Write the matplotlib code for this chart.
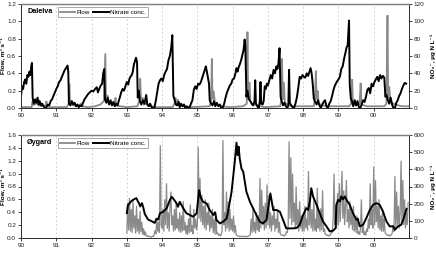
import matplotlib
matplotlib.use("Agg")
import matplotlib.pyplot as plt
from matplotlib.lines import Line2D

plt.rcParams['font.family'] = ['Liberation Sans', 'DejaVu Sans']

# ---------------- data ----------------
year_ticks = [90, 91, 92, 93, 94, 95, 96, 97, 98, 99, 100]
year_labels = ["90", "91", "92", "93", "94", "95", "96", "97", "98", "99", "00"]

# Dalelva flow (m3/s)
dal_flow_t = [90.0, 90.3, 90.33, 90.35, 90.38, 90.40, 90.45, 90.5, 90.6, 90.7, 90.72, 90.74, 90.8,
              91.3, 91.35, 91.37, 91.39, 91.42, 91.45, 91.5, 91.6, 91.7, 91.72, 91.9,
              92.1, 92.25, 92.35, 92.39, 92.41, 92.45, 92.48, 92.55, 92.58, 92.65, 92.68, 92.7, 92.8,
              93.0, 93.3, 93.35, 93.38, 93.4, 93.45, 93.48, 93.55, 93.65, 93.8,
              94.3, 94.35, 94.38, 94.4, 94.45, 94.48, 94.6, 94.8,
              95.35, 95.39, 95.41, 95.43, 95.46, 95.5, 95.6, 95.7, 95.9,
              96.3, 96.4, 96.42, 96.44, 96.48, 96.5, 96.55, 96.7, 96.9,
              97.35, 97.38, 97.4, 97.42, 97.45, 97.48, 97.55, 97.7,
              98.3, 98.33, 98.36, 98.38, 98.41, 98.44, 98.55, 98.7,
              99.3, 99.36, 99.39, 99.41, 99.5, 99.6, 99.63, 99.65, 99.8,
              100.3, 100.36, 100.39, 100.41, 100.44, 100.47, 100.55, 100.7, 100.8, 101.0]
dal_flow = [0.01, 0.01, 0.08, 0.03, 0.10, 0.04, 0.06, 0.03, 0.02, 0.03, 0.08, 0.02, 0.01,
            0.01, 0.05, 0.28, 0.05, 0.08, 0.04, 0.03, 0.02, 0.05, 0.02, 0.01,
            0.02, 0.04, 0.08, 0.63, 0.10, 0.15, 0.05, 0.10, 0.03, 0.05, 0.12, 0.03, 0.02,
            0.01, 0.02, 0.08, 0.34, 0.10, 0.12, 0.04, 0.05, 0.03, 0.01,
            0.01, 0.05, 0.12, 0.03, 0.10, 0.03, 0.02, 0.01,
            0.02, 0.10, 0.57, 0.10, 0.20, 0.05, 0.03, 0.02, 0.01,
            0.02, 0.05, 0.88, 0.10, 0.30, 0.08, 0.05, 0.03, 0.01,
            0.02, 0.10, 0.57, 0.10, 0.30, 0.06, 0.04, 0.02,
            0.02, 0.10, 0.43, 0.10, 0.20, 0.05, 0.03, 0.02,
            0.02, 0.05, 0.33, 0.05, 0.03, 0.05, 0.29, 0.04, 0.02,
            0.02, 0.05, 1.07, 0.10, 0.25, 0.08, 0.05, 0.03, 0.02, 0.02]

# Dalelva nitrate (ug N/L)
dal_no3_t = [90.0, 90.03, 90.06, 90.09, 90.12, 90.15, 90.18, 90.21, 90.24, 90.27, 90.29, 90.31, 90.33,
             90.36, 90.4, 90.43, 90.47, 90.5, 90.53, 90.57, 90.6, 90.64, 90.68, 90.72, 90.76, 90.8,
             90.84, 90.88, 90.92, 90.96, 91.0, 91.04, 91.08, 91.12, 91.16, 91.2, 91.23, 91.26, 91.29,
             91.32, 91.34, 91.36, 91.4, 91.44, 91.48, 91.52, 91.56, 91.6, 91.64, 91.68, 91.72, 91.76,
             91.8, 91.85, 91.9, 91.95, 92.0, 92.05, 92.1, 92.15, 92.18, 92.22, 92.26, 92.3, 92.33,
             92.36, 92.38, 92.42, 92.46, 92.5, 92.54, 92.58, 92.62, 92.66, 92.7, 92.74,
             92.77, 92.8, 92.84, 92.88, 92.92, 92.96, 93.0, 93.04, 93.07, 93.1, 93.14, 93.17, 93.2,
             93.23, 93.26, 93.29, 93.31, 93.34, 93.37, 93.41, 93.45, 93.5, 93.55, 93.58, 93.62, 93.66,
             93.7, 93.74, 93.78, 93.82, 93.86, 93.9,
             93.94, 93.98, 94.02, 94.06, 94.1, 94.14, 94.18, 94.22, 94.26, 94.29, 94.32, 94.35, 94.39,
             94.43, 94.47, 94.5, 94.54, 94.58, 94.62, 94.66, 94.7, 94.74, 94.78, 94.82, 94.86, 94.9,
             94.94, 94.98,
             95.02, 95.06, 95.1, 95.14, 95.18, 95.21, 95.24, 95.27, 95.3, 95.33, 95.35, 95.39, 95.43,
             95.47, 95.51, 95.55, 95.6, 95.64, 95.68, 95.72, 95.76, 95.8, 95.84, 95.88, 95.92, 95.96,
             96.0, 96.04, 96.08, 96.11, 96.14, 96.17, 96.2, 96.24, 96.28, 96.31, 96.34, 96.36, 96.39,
             96.42, 96.46, 96.5, 96.54, 96.58, 96.62, 96.64, 96.66, 96.7, 96.74, 96.77, 96.79, 96.81,
             96.85, 96.88, 96.91, 96.94, 96.97,
             97.0, 97.04, 97.08, 97.12, 97.16, 97.2, 97.24, 97.27, 97.3, 97.33, 97.36, 97.39, 97.43,
             97.47, 97.51, 97.55, 97.58, 97.6, 97.62, 97.66, 97.7, 97.74, 97.78, 97.82, 97.86, 97.9,
             97.94, 97.98,
             98.02, 98.06, 98.1, 98.14, 98.18, 98.21, 98.24, 98.27, 98.3, 98.34, 98.38, 98.42, 98.46,
             98.5, 98.54, 98.58, 98.62, 98.66, 98.7, 98.74, 98.78, 98.82, 98.86, 98.9, 98.95,
             99.0, 99.04, 99.08, 99.12, 99.16, 99.2, 99.23, 99.26, 99.3, 99.32, 99.35, 99.38, 99.42,
             99.46, 99.5, 99.54, 99.58, 99.62, 99.66, 99.7, 99.74, 99.78, 99.82, 99.86, 99.9, 99.94,
             99.98,
             100.02, 100.06, 100.1, 100.14, 100.18, 100.22, 100.26, 100.3, 100.33, 100.36, 100.4,
             100.44, 100.48, 100.52, 100.56, 100.6, 100.64, 100.68, 100.72, 100.76, 100.8, 100.84,
             100.88, 100.92]
dal_no3 = [13, 25, 22, 30, 33, 28, 38, 36, 42, 38, 48, 52, 12,
           5, 10, 6, 12, 4, 8, 3, 5, 2, 0, 1, 4, 3,
           8, 10, 14, 18, 22, 25, 30, 32, 36, 40, 43, 45, 47,
           49, 42, 5, 3, 8, 4, 6, 2, 4, 1, 3, 2, 6,
           10, 13, 16, 18, 20, 19, 22, 24, 18, 22, 26, 28, 40,
           45, 10, 6, 12, 4, 8, 3, 7, 2, 5, 3,
           8, 12, 18, 22, 20, 25, 30, 27, 33, 36, 38, 42, 50,
           54, 58, 53, 12, 20, 8, 4, 9, 5, 15, 4, 2, 5,
           1, 0, 0, 8, 18, 28,
           32, 34, 31, 38, 42, 45, 55, 60, 70, 84, 14, 10, 4,
           3, 7, 1, 5, 2, 4, 0, 2, 0, 1, 5, 9, 21,
           25, 22,
           28, 27, 30, 35, 40, 44, 48, 42, 35, 28, 9, 5, 3,
           8, 2, 6, 2, 4, 0, 0, 5, 12, 18, 22, 26, 28,
           33, 34, 40, 46, 42, 47, 50, 55, 62, 67, 79, 72, 13,
           20, 10, 8, 5, 3, 8, 32, 5, 2, 0, 8, 30, 5,
           4, 8, 25, 22, 28,
           26, 32, 38, 34, 44, 40, 48, 45, 52, 69, 13, 8, 3,
           6, 2, 0, 3, 44, 6, 3, 1, 0, 5, 12, 23, 36,
           34, 38,
           36, 35, 40, 37, 42, 46, 40, 28, 11, 7, 4, 9, 3,
           0, 4, 7, 9, 2, 0, 5, 8, 14, 21, 26, 30,
           33, 36, 45, 48, 57, 64, 70, 72, 101, 27, 11, 8, 2,
           9, 3, 8, 1, 0, 4, 9, 7, 13, 21, 23, 17, 28,
           25,
           30, 33, 36, 31, 38, 34, 37, 35, 13, 15, 9,
           5, 12, 4, 0, 0, 6, 9, 14, 17, 22, 26,
           29, 28]

# Oygard flow (m3/s), 40 readings per year from 1993.0
oyg_flow_start = 93.0
oyg_flow_per_year = 40
oyg_flow_93 = [0.08, 0.55, 0.12, 0.62, 0.10, 0.45, 0.08, 0.58, 0.15, 0.35, 0.07, 0.50, 0.10, 0.30, 0.06, 0.42,
               0.09, 0.25, 0.05, 0.15, 0.04, 0.10, 0.03, 0.04, 0.02, 0.03, 0.02, 0.02, 0.01, 0.03, 0.02, 0.05,
               0.12, 0.06, 0.30, 0.10, 0.25, 0.08, 1.44, 0.20]
oyg_flow_94 = [0.15, 0.45, 0.10, 0.60, 0.20, 0.85, 0.15, 0.40, 0.10, 0.50, 0.72, 0.20, 0.35, 0.10, 0.45, 0.12,
               0.55, 0.15, 0.30, 0.10, 0.40, 0.08, 0.35, 0.10, 0.57, 0.12, 0.25, 0.06, 0.20, 0.05, 0.30, 0.08,
               0.52, 0.10, 0.20, 0.06, 0.45, 0.15, 0.30, 0.12]
oyg_flow_95 = [0.20, 1.42, 0.30, 0.93, 0.25, 0.67, 0.20, 0.50, 0.15, 0.60, 0.12, 0.40, 0.20, 0.55, 0.10, 0.35,
               0.15, 0.45, 0.08, 0.30, 0.05, 0.40, 0.06, 0.08, 0.04, 0.06, 0.03, 0.05, 0.10, 1.52, 0.20, 0.40,
               0.10, 0.72, 0.15, 0.57, 0.10, 0.45, 0.12, 0.30]
oyg_flow_96 = [0.10, 0.35, 0.08, 0.20, 0.05, 0.04, 0.03, 0.03, 0.02, 0.03, 0.02, 0.02, 0.03, 0.02, 0.02, 0.03,
               0.02, 0.02, 0.03, 0.04, 0.05, 0.30, 0.08, 0.45, 0.10, 0.25, 0.07, 0.40, 0.12, 0.35, 0.10, 0.93,
               0.15, 0.75, 0.20, 0.50, 0.12, 0.55, 0.15, 0.83]
oyg_flow_97 = [0.20, 0.67, 0.15, 0.40, 0.10, 0.35, 0.20, 0.50, 0.10, 0.30, 0.15, 0.45, 0.08, 0.25, 0.06, 0.05,
               0.04, 0.05, 0.03, 0.04, 0.05, 0.10, 0.08, 0.20, 1.50, 0.30, 1.25, 0.20, 1.00, 0.25, 0.55, 0.15,
               0.80, 0.20, 0.45, 0.10, 0.57, 0.15, 0.35, 0.10]
oyg_flow_98 = [0.35, 0.10, 0.50, 0.15, 0.30, 0.12, 1.04, 0.20, 0.55, 0.15, 0.45, 0.10, 0.60, 0.12, 0.30, 0.10,
               0.78, 0.15, 0.40, 0.10, 0.46, 0.12, 0.74, 0.10, 0.15, 0.06, 0.05, 0.04, 0.05, 0.03, 0.04, 0.05,
               0.10, 0.08, 0.30, 1.00, 0.20, 0.50, 0.15, 0.70]
oyg_flow_99 = [0.20, 0.85, 0.25, 0.60, 1.04, 0.30, 0.74, 0.20, 0.50, 0.90, 0.25, 0.45, 0.15, 0.57, 0.20, 0.40,
               0.12, 0.50, 0.10, 0.30, 0.08, 0.35, 0.06, 0.10, 0.05, 0.15, 0.60, 0.08, 0.20, 0.05, 0.10, 0.04,
               0.15, 0.10, 0.30, 0.15, 0.85, 0.20, 0.45, 0.15]
oyg_flow_00 = [1.11, 0.20, 0.90, 0.25, 0.50, 0.15, 0.60, 0.12, 0.35, 0.10, 0.45, 0.10, 0.30, 0.08, 0.06, 0.05,
               0.04, 0.05, 0.03, 0.04, 0.05, 0.08, 0.20, 0.10, 0.96, 0.15, 0.72, 0.20, 0.50, 0.15, 0.40, 1.20,
               0.25, 0.90, 0.20, 0.60, 0.15, 0.40, 0.20, 0.55]

# Oygard nitrate (ug N/L)
oyg_no3_t = [93.0, 93.03, 93.08, 93.13, 93.2, 93.27, 93.31, 93.35, 93.38, 93.43, 93.47, 93.51, 93.6,
             93.7, 93.79, 93.84, 93.89, 93.94, 94.03, 94.13, 94.22, 94.27, 94.31, 94.41, 94.45, 94.5,
             94.6, 94.69, 94.79, 94.88, 94.98, 95.05, 95.09, 95.16, 95.26, 95.35, 95.45, 95.5, 95.54,
             95.64, 95.73, 95.83, 95.87, 95.92, 95.97, 96.01, 96.06, 96.11, 96.14, 96.17, 96.2, 96.25,
             96.3, 96.39, 96.49, 96.58, 96.67, 96.77, 96.86, 96.96, 97.02, 97.07, 97.15, 97.24, 97.34,
             97.43, 97.52, 97.71, 97.81, 97.9, 98.0, 98.09, 98.14, 98.19, 98.23, 98.28, 98.38, 98.47,
             98.56, 98.66, 98.75, 98.85, 98.92, 98.94, 98.99, 99.04, 99.08, 99.13, 99.18, 99.23, 99.32,
             99.41, 99.51, 99.55, 99.6, 99.7, 99.79, 99.89, 99.98, 100.08, 100.17, 100.26, 100.36,
             100.45, 100.55, 100.6, 100.69, 100.78, 100.85, 100.93]
oyg_no3 = [145, 190, 203, 215, 225, 232, 215, 200, 184, 203, 175, 140, 108,
           98, 88, 112, 108, 144, 153, 173, 221, 240, 231, 202, 182, 211,
           173, 144, 134, 124, 144, 279, 240, 211, 202, 163, 134, 150, 105,
           85, 95, 114, 153, 211, 270, 347, 444, 555, 483, 532, 464, 405,
           386, 270, 211, 173, 134, 95, 85, 105, 192, 260, 163, 163, 153,
           105, 56, 56, 58, 77, 135, 174, 164, 213, 290, 242, 193, 145,
           97, 68, 39, 43, 58, 193, 222, 213, 242, 225, 242, 222, 193,
           145, 106, 112, 68, 77, 116, 164, 193, 203, 193, 155, 97,
           68, 68, 48, 68, 77, 116, 170]

# ---------------- figure ----------------
W, H = 436, 254
fig = plt.figure(figsize=(W / 100, H / 100), dpi=100)

left_px, right_px = 21, 409
panels = [
    dict(top=4, bottom=108, name="Dalelva", ymax=1.2, ystep=0.2, y2max=120, y2step=20),
    dict(top=135, bottom=238, name="Øygard", ymax=1.6, ystep=0.2, y2max=600, y2step=100),
]

FLOW_C = "#8a8a8a"
FS = 4.6

oyg_flow = (oyg_flow_93 + oyg_flow_94 + oyg_flow_95 + oyg_flow_96 +
            oyg_flow_97 + oyg_flow_98 + oyg_flow_99 + oyg_flow_00)
oyg_flow_t = [oyg_flow_start + i / oyg_flow_per_year for i in range(len(oyg_flow))]

series = [
    (dal_flow_t, dal_flow, dal_no3_t, dal_no3, 1.3),
    (oyg_flow_t, oyg_flow, oyg_no3_t, oyg_no3, 0.9),
]

for p, (ft, fv, nt, nv, flw) in zip(panels, series):
    ax = fig.add_axes([left_px / W, 1 - p["bottom"] / H,
                       (right_px - left_px) / W, (p["bottom"] - p["top"]) / H])
    ax2 = ax.twinx()
    ax.plot(ft, fv, color=FLOW_C, lw=flw, solid_joinstyle='miter')
    ax2.plot(nt, nv, color="black", lw=1.4)
    ax.set_xlim(90, 101)
    ax.set_ylim(0, p["ymax"])
    ax2.set_ylim(0, p["y2max"])
    n = int(round(p["ymax"] / p["ystep"]))
    ax.set_yticks([round(i * p["ystep"], 1) for i in range(n + 1)])
    ax.set_yticklabels([f"{i * p['ystep']:.1f}" for i in range(n + 1)], fontsize=FS)
    m = int(round(p["y2max"] / p["y2step"]))
    ax2.set_yticks([i * p["y2step"] for i in range(m + 1)])
    ax2.set_yticklabels([str(i * p["y2step"]) for i in range(m + 1)], fontsize=FS)
    ax.set_xticks(year_ticks)
    ax.set_xticklabels(year_labels, fontsize=FS)
    for yr in year_ticks[1:]:
        ax.axvline(yr, color="#c8c8c8", lw=0.6, ls=(0, (2, 3)), zorder=0)
    for a in (ax, ax2):
        a.tick_params(length=2, width=0.6, pad=1.5, colors="#202020", labelsize=FS)
        for s in a.spines.values():
            s.set_linewidth(0.7)
            s.set_color("#303030")
        a.spines["top"].set_color("#808080")
        a.spines["top"].set_linewidth(0.9)
    ax.set_ylabel("Flow, m³ s⁻¹", fontsize=FS, fontweight="bold")
    ax.yaxis.set_label_coords(-0.038, 0.5)
    ax2.set_ylabel("NO₃⁻, µg N L⁻¹", fontsize=FS, fontweight="bold")
    ax2.yaxis.set_label_coords(1.055, 0.5)
    ax.text(0.016, 0.925, p["name"], transform=ax.transAxes, fontsize=5.2,
            fontweight="bold", va="center", ha="left")
    handles = [Line2D([], [], color=FLOW_C, lw=1.3), Line2D([], [], color="black", lw=1.4)]
    leg = ax2.legend(handles, ["Flow", "Nitrate conc."], ncol=2, fontsize=FS,
                     loc="upper left", bbox_to_anchor=(0.095, 0.97), frameon=True,
                     fancybox=False, handlelength=2.4, handletextpad=0.2,
                     columnspacing=0.5, borderpad=0.35, borderaxespad=0)
    leg.get_frame().set_edgecolor("#808080")
    leg.get_frame().set_linewidth(0.6)

fig.savefig("out.png", dpi=100)
